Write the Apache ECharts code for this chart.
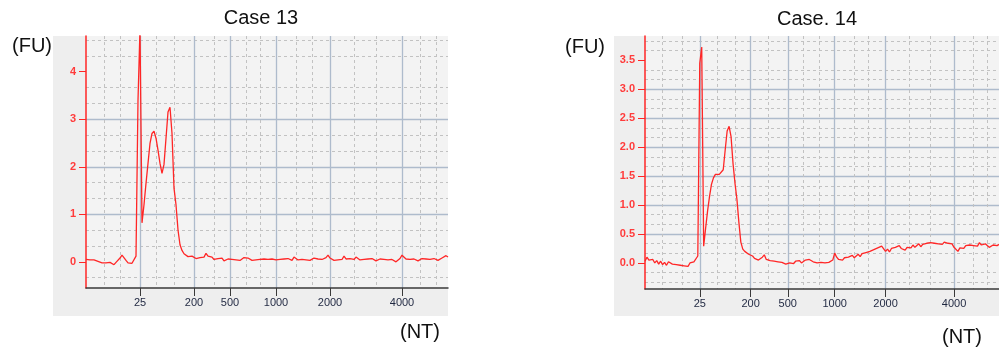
<!DOCTYPE html>
<html><head><meta charset="utf-8">
<script src="https://cdn.jsdelivr.net/npm/echarts@6/dist/echarts.min.js"></script>
<style>html,body{margin:0;padding:0;background:#fff}#c{width:999px;height:349px}</style>
</head><body><div id="c"></div>
<script>
const N = 182;
const ladderLabels = ['25', '200', '500', '1000', '2000', '4000'];
const case13LadderIdx = [27, 54, 72, 95, 122, 158];
const case14LadderIdx = [28, 54, 73, 97, 123, 158];
const case13MinorIdx = [9, 17, 35, 44, 64, 80, 87, 105, 113, 134, 145, 167, 175];
const case14MinorIdx = [9, 19, 37, 46, 63, 81, 89, 107, 114, 135, 146, 168, 175];
const case13YTicks = [0, 1, 2, 3, 4];
const case14YTicks = [0, 0.5, 1, 1.5, 2, 2.5, 3, 3.5];

const case13Values = [
  0.05, 0.07, 0.04, 0.05, 0.04, 0.03, 0.01, -0.03, -0.02, -0.04,
  -0.02, -0.03, -0.01, -0.04, -0.06, -0.01, 0.03, 0.08, 0.14, 0.10,
  0.03, -0.02, -0.04, -0.03, 0.00, 0.12, 3.40, 4.90, 0.82, 1.20,
  1.65, 2.07, 2.49, 2.70, 2.75, 2.60, 2.35, 2.07, 1.86, 2.05,
  2.60, 3.15, 3.25, 2.70, 1.55, 1.20, 0.67, 0.36, 0.24, 0.17,
  0.13, 0.11, 0.08, 0.12, 0.15, 0.07, 0.05, 0.09, 0.06, 0.10,
  0.18, 0.12, 0.08, 0.10, 0.05, 0.03, 0.07, 0.04, 0.08, 0.02,
  0.05, 0.06, 0.03, 0.05, 0.08, 0.04, 0.06, 0.03, 0.07, 0.09,
  0.12, 0.08, 0.05, 0.03, 0.06, 0.04, 0.07, 0.05, 0.02, 0.06,
  0.04, 0.05, 0.03, 0.06, 0.08, 0.04, 0.02, 0.05, 0.03, 0.06,
  0.04, 0.07, 0.05, 0.03, 0.10, 0.06, 0.04, 0.02, 0.05, 0.07,
  0.04, 0.06, 0.03, 0.05, 0.08, 0.04, 0.06, 0.02, 0.05, 0.07,
  0.09, 0.14, 0.08, 0.05, 0.03, 0.06, 0.04, 0.07, 0.05, 0.12,
  0.06, 0.04, 0.07, 0.03, 0.05, 0.10, 0.06, 0.04, 0.02, 0.05,
  0.03, 0.06, 0.04, 0.07, 0.05, 0.02, 0.04, 0.06, 0.03, 0.05,
  0.07, 0.04, 0.02, 0.05, 0.03, 0.00, 0.04, 0.07, 0.14, 0.10,
  0.06, 0.08, 0.05, 0.03, 0.06, 0.04, 0.02, 0.05, 0.07, 0.04,
  0.06, 0.03, 0.05, 0.04, 0.07, 0.05, 0.03, 0.06, 0.08, 0.05,
  0.13, 0.10
];

const case14Values = [
  0.03, 0.10, 0.05, 0.02, 0.06, 0.00, 0.04, -0.02, 0.03, -0.03,
  0.01, -0.04, 0.02, 0.04, -0.02, 0.01, -0.03, 0.00, -0.04, -0.01,
  -0.05, -0.02, -0.06, 0.00, -0.03, 0.02, 0.04, 0.12, 3.45, 3.73,
  0.29, 0.60, 0.90, 1.15, 1.36, 1.47, 1.53, 1.55, 1.53, 1.52,
  1.61, 1.95, 2.28, 2.36, 2.18, 1.72, 1.38, 1.10, 0.70, 0.36,
  0.24, 0.20, 0.17, 0.15, 0.14, 0.12, 0.08, 0.11, 0.05, 0.07,
  0.10, 0.14, 0.06, 0.08, 0.04, 0.07, 0.03, 0.06, 0.02, 0.05,
  0.01, 0.03, -0.02, -0.03, 0.00, 0.02, -0.01, 0.03, 0.01, 0.04,
  0.00, 0.02, 0.05, 0.03, 0.06, 0.07, 0.02, 0.04, 0.00, 0.02,
  0.01, 0.03, 0.00, 0.02, 0.01, 0.03, 0.05, 0.17, 0.10, 0.06,
  0.08, 0.05, 0.09, 0.06, 0.10, 0.08, 0.13, 0.09, 0.12, 0.15,
  0.11, 0.16, 0.13, 0.18, 0.15, 0.20, 0.17, 0.23, 0.20, 0.26,
  0.24, 0.29, 0.26, 0.20, 0.24, 0.19, 0.25, 0.22, 0.27, 0.24,
  0.30, 0.25, 0.28, 0.22, 0.27, 0.30, 0.26, 0.31, 0.27, 0.29,
  0.33, 0.28, 0.32, 0.30, 0.34, 0.31, 0.35, 0.32, 0.34, 0.36,
  0.33, 0.35, 0.32, 0.36, 0.38, 0.34, 0.31, 0.33, 0.27, 0.24,
  0.20, 0.26, 0.29, 0.25, 0.30, 0.27, 0.31, 0.28, 0.30, 0.33,
  0.29, 0.35, 0.31, 0.29, 0.33, 0.30, 0.27, 0.29, 0.31, 0.28,
  0.30, 0.32
];

function makeCats(idxs) {
  const c = [];
  for (let i = 0; i < N; i++) {
    const k = idxs.indexOf(i);
    c.push(k >= 0 ? ladderLabels[k] : 'p' + i);
  }
  return c;
}

const FONT = '"Liberation Sans", Arial, sans-serif';
const RED = '#ff2626';
const MAJOR_GRID = '#aebbcc';
const MINOR_GRID = '#c2c2c2';

function xAxes(g, ladderIdx, minorIdx) {
  const cats = makeCats(ladderIdx);
  const major = (i) => ladderIdx.indexOf(i) >= 0;
  const minor = (i) => minorIdx.indexOf(i) >= 0;
  return [
    {
      gridIndex: g, type: 'category', data: cats, boundaryGap: false, position: 'bottom',
      axisLine: { show: true, onZero: false, lineStyle: { color: '#3a3a3a', width: 1.5 } },
      axisTick: { show: true, interval: major, length: 8, lineStyle: { color: '#3a3a3a', width: 1 } },
      axisLabel: { interval: major, color: '#1f2740', fontSize: 11, margin: 9, fontFamily: FONT },
      splitLine: { show: true, interval: major, lineStyle: { color: MAJOR_GRID, width: 1.3 } }
    },
    {
      gridIndex: g, type: 'category', data: cats, boundaryGap: false, position: 'top',
      axisLine: { show: false, onZero: false }, axisTick: { show: false }, axisLabel: { show: false },
      splitLine: { show: true, interval: minor, lineStyle: { color: MINOR_GRID, width: 1, type: [3, 3] } }
    }
  ];
}

function yAxis(g, min, max, step, ticks, fmt) {
  return {
    gridIndex: g, type: 'value', min: min, max: max, minInterval: step, maxInterval: step,
    axisLine: { show: true, onZero: false, lineStyle: { color: RED, width: 1.5 } },
    axisTick: { show: true, length: 7, customValues: ticks, lineStyle: { color: RED, width: 1 } },
    axisLabel: { color: '#ff3b3b', fontSize: 11, fontWeight: 'bold', margin: 10, fontFamily: FONT,
      customValues: ticks, formatter: fmt },
    splitLine: { show: true, showMinLine: false, showMaxLine: false, lineStyle: { color: MAJOR_GRID, width: 1.3 } },
    minorTick: { show: false, splitNumber: 3 },
    minorSplitLine: { show: true, lineStyle: { color: MINOR_GRID, width: 1, type: [3, 3] } }
  };
}

const xs = xAxes(0, case13LadderIdx, case13MinorIdx).concat(xAxes(1, case14LadderIdx, case14MinorIdx));

const option = {
  animation: false,
  backgroundColor: '#ffffff',
  grid: [
    { left: 86, top: 36, width: 362, height: 252, show: true, backgroundColor: '#f3f3f3', borderWidth: 0 },
    { left: 645, top: 36, width: 362, height: 253, show: true, backgroundColor: '#f3f3f3', borderWidth: 0 }
  ],
  xAxis: xs,
  yAxis: [
    yAxis(0, -0.55, 4.75, 1, case13YTicks, (v) => String(v)),
    yAxis(1, -0.45, 3.92, 0.5, case14YTicks, (v) => v.toFixed(1))
  ],
  graphic: [
    { type: 'rect', z: -100, shape: { x: 53, y: 36, width: 395, height: 280 }, style: { fill: '#eeeeee' } },
    { type: 'rect', z: -100, shape: { x: 614, y: 36, width: 385, height: 280 }, style: { fill: '#eeeeee' } },
    { type: 'text', style: { text: 'Case 13', x: 261, y: 18, font: '20px ' + FONT, fill: '#111', textAlign: 'center', textVerticalAlign: 'middle', align: 'center', verticalAlign: 'middle' } },
    { type: 'text', style: { text: 'Case. 14', x: 817, y: 19, font: '20px ' + FONT, fill: '#111', textAlign: 'center', textVerticalAlign: 'middle', align: 'center', verticalAlign: 'middle' } },
    { type: 'text', style: { text: '(FU)', x: 12, y: 46, font: '20px ' + FONT, fill: '#111', textAlign: 'left', textVerticalAlign: 'middle', align: 'left', verticalAlign: 'middle' } },
    { type: 'text', style: { text: '(FU)', x: 565, y: 47, font: '20px ' + FONT, fill: '#111', textAlign: 'left', textVerticalAlign: 'middle', align: 'left', verticalAlign: 'middle' } },
    { type: 'text', style: { text: '(NT)', x: 400, y: 332, font: '20px ' + FONT, fill: '#111', textAlign: 'left', textVerticalAlign: 'middle', align: 'left', verticalAlign: 'middle' } },
    { type: 'text', style: { text: '(NT)', x: 942, y: 337, font: '20px ' + FONT, fill: '#111', textAlign: 'left', textVerticalAlign: 'middle', align: 'left', verticalAlign: 'middle' } }
  ],
  series: [
    { type: 'line', xAxisIndex: 0, yAxisIndex: 0, data: case13Values, showSymbol: false, symbol: 'none',
      lineStyle: { color: RED, width: 1.3 }, itemStyle: { color: RED }, clip: true, z: 5 },
    { type: 'line', xAxisIndex: 2, yAxisIndex: 1, data: case14Values, showSymbol: false, symbol: 'none',
      lineStyle: { color: RED, width: 1.3 }, itemStyle: { color: RED }, clip: true, z: 5 }
  ]
};

const chart = echarts.init(document.getElementById('c'), null, { renderer: 'canvas' });
chart.setOption(option);
</script>
</body></html>
